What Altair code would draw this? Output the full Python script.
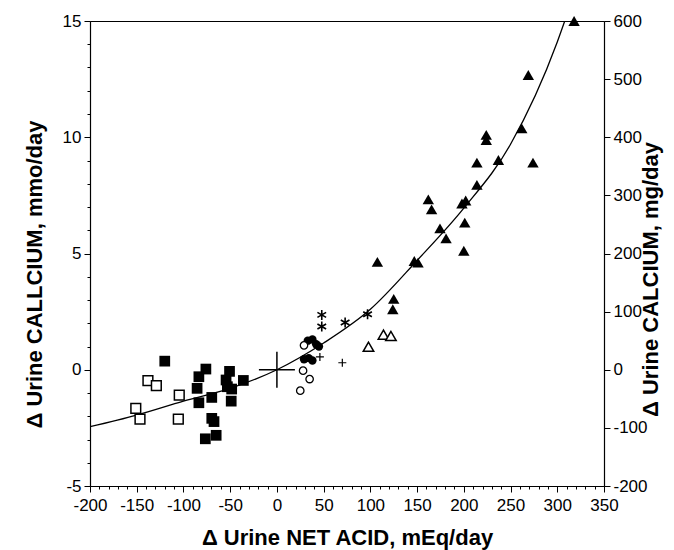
import altair as alt
import pandas as pd

# ---- data ----
x_ticks = [-200, -150, -100, -50, 0, 50, 100, 150, 200, 250, 300, 350]
y_ticks = [-5, 0, 5, 10, 15]
mg_ticks = [-200, -100, 0, 100, 200, 300, 400, 500, 600]

curve_x = [-200, -150, -100, -50, 0, 50, 100, 150, 200, 250, 300, 308]
curve_y = [-2.45, -1.95, -1.35, -0.8, 0.0, 1.15, 2.6, 4.7, 6.95, 9.7, 14.1, 15.0]

fsq_x = [-120, -76, -83.5, -85.4, -83.5, -69.7, -69.7, -67.3, -76.6, -65, -50.7, -54.4, -53, -48.4, -48.9, -35.9]
fsq_y = [0.37, 0.03, -0.3, -0.8, -1.42, -1.19, -2.09, -2.23, -2.97, -2.82, -0.07, -0.44, -0.73, -0.83, -1.35, -0.46]

osq_x = [-151, -146.5, -138, -129, -104.5, -105.5]
osq_y = [-1.66, -2.12, -0.47, -0.68, -1.09, -2.12]

ftri_x = [318, 269, 262, 224, 224, 274, 237, 214, 214, 162, 165.5, 198, 202, 201, 174.5, 181, 200, 147, 151, 107.5, 125, 124]
ftri_y = [15.0, 12.68, 10.38, 10.10, 9.88, 8.91, 9.02, 8.91, 7.95, 7.33, 6.90, 7.15, 7.28, 6.33, 6.08, 5.65, 5.12, 4.68, 4.61, 4.64, 3.05, 2.6]

otri_x = [98, 114, 122]
otri_y = [0.99, 1.51, 1.45]

ast_x = [48, 48, 73, 97]
ast_y = [2.36, 1.86, 2.03, 2.39]

fcir_x = [33, 38, 42, 45, 29, 34, 38]
fcir_y = [1.25, 1.3, 1.1, 1.0, 0.45, 0.5, 0.4]

ocir_x = [28, 35, 25, 29]
ocir_y = [-0.04, -0.40, -0.90, 1.05]

plus_x = [46, 70]
plus_y = [0.55, 0.3]

center_x = [0]
center_y = [0]

mg_domain = [-200, 600]


def df(xs, ys):
    return pd.DataFrame({"acid": xs, "ca": ys})


x_minor = list(range(-200, 351, 10))
y_minor = list(range(-5, 16, 1))

FONT = "Liberation Sans"

X = alt.X(
    "acid:Q",
    scale=alt.Scale(domain=[-200, 350], nice=False, zero=False),
    axis=alt.Axis(
        title="Δ Urine NET ACID, mEq/day",
        values=x_minor,
        labelExpr="datum.value % 50 === 0 ? replace(datum.label, '\u2212', '-') : ''",
        labelOverlap=False,
        labelFlush=False,
        tickSize={"condition": {"test": "datum.value % 50 === 0", "value": 6}, "value": 3},
        grid=False,
        titlePadding=14,
        labelPadding=5,
    ),
)
Y = alt.Y(
    "ca:Q",
    scale=alt.Scale(domain=[-5, 15], nice=False, zero=False),
    axis=alt.Axis(
        title="Δ Urine CALLCIUM, mmo/day",
        values=y_minor,
        labelExpr="datum.value % 5 === 0 ? replace(datum.label, '\u2212', '-') : ''",
        labelOverlap=False,
        labelFlush=False,
        tickSize={"condition": {"test": "datum.value % 5 === 0", "value": 6}, "value": 3},
        grid=False,
        titlePadding=16,
        titleY=253,
        labelPadding=3,
    ),
)

curve = alt.Chart(df(curve_x, curve_y)).mark_line(
    color="black", strokeWidth=1.3, interpolate="monotone", clip=True
).encode(x=X, y=Y)

fsq = alt.Chart(df(fsq_x, fsq_y)).mark_point(
    shape="square", filled=True, color="black", size=115, opacity=1
).encode(x=X, y=Y)

osq = alt.Chart(df(osq_x, osq_y)).mark_point(
    shape="square", filled=True, fill="white", stroke="black", strokeWidth=1.5, size=95, opacity=1
).encode(x=X, y=Y)

ftri = alt.Chart(df(ftri_x, ftri_y)).mark_point(
    shape="triangle-up", filled=True, color="black", size=130, opacity=1
).encode(x=X, y=Y)

otri = alt.Chart(df(otri_x, otri_y)).mark_point(
    shape="triangle-up", filled=True, fill="white", stroke="black", strokeWidth=1.5, size=110, opacity=1
).encode(x=X, y=Y)

ast = alt.Chart(df(ast_x, ast_y)).mark_point(
    shape="M0,-1L0,1M-0.87,-0.5L0.87,0.5M-0.87,0.5L0.87,-0.5",
    filled=False, stroke="black", strokeWidth=1.6, size=100, opacity=1
).encode(x=X, y=Y)

fcir = alt.Chart(df(fcir_x, fcir_y)).mark_point(
    shape="circle", filled=True, color="black", size=70, opacity=1
).encode(x=X, y=Y)

ocir = alt.Chart(df(ocir_x, ocir_y)).mark_point(
    shape="circle", filled=True, fill="white", stroke="black", strokeWidth=1.3, size=55, opacity=1
).encode(x=X, y=Y)

plus = alt.Chart(df(plus_x, plus_y)).mark_point(
    shape="M-1,0L1,0M0,-1L0,1", filled=False, stroke="black", strokeWidth=1.2, size=64, opacity=1
).encode(x=X, y=Y)

center = alt.Chart(df(center_x, center_y)).mark_point(
    shape="M-1,0L1,0M0,-1L0,1", filled=False, stroke="black", strokeWidth=1.5, size=1296, opacity=1
).encode(x=X, y=Y)

main = alt.layer(curve, fsq, osq, ftri, otri, ast, fcir, ocir, plus, center)

right = alt.Chart(pd.DataFrame({"acid": [-200, 350], "mg": mg_domain})).mark_point(
    opacity=0
).encode(
    x=X,
    y=alt.Y(
        "mg:Q",
        scale=alt.Scale(domain=mg_domain, nice=False, zero=False),
        axis=alt.Axis(
            orient="right",
            title="Δ Urine CALCIUM, mg/day",
            values=mg_ticks,
            labelExpr="replace(datum.label, '\u2212', '-')",
            tickSize=6,
            grid=False,
            titleAngle=270,
            titlePadding=15,
            titleY=258,
            labelPadding=3,
            labelFlush=False,
        ),
    ),
)

chart = alt.layer(main, right).resolve_scale(y="independent").properties(
    width=514,
    height=465,
    autosize=alt.AutoSizeParams(type="none"),
    padding={"left": 90, "top": 21, "right": 70, "bottom": 64},
).configure_view(
    stroke="black", strokeWidth=1
).configure_axis(
    labelFont=FONT,
    labelFontSize=17,
    labelColor="black",
    titleFont=FONT,
    titleFontSize=22,
    titleFontWeight="bold",
    titleColor="black",
    domainColor="black",
    domainWidth=1.2,
    tickColor="black",
)

chart.save("out.html", embed_options={"renderer": "svg", "actions": False})
